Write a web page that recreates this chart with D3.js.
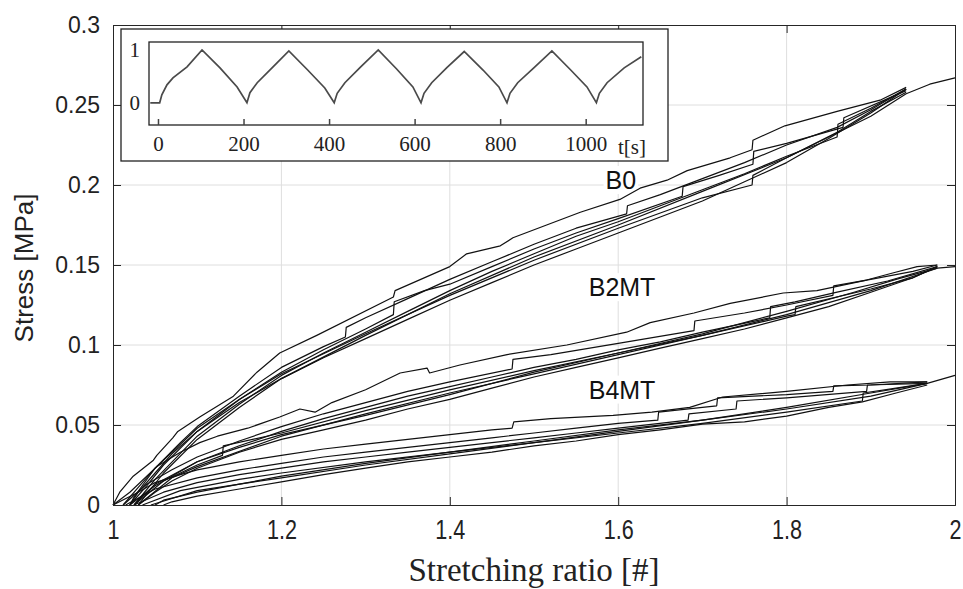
<html>
<head>
  <meta charset="utf-8">
  <title>Stress vs stretching ratio</title>
  <script src="https://cdn.jsdelivr.net/npm/d3@7"></script>
  <style>
    body { margin: 0; background: #fff; }
    svg text { font-family: "Liberation Sans", Arial, sans-serif; }
    .serif { font-family: "Liberation Serif", "Times New Roman", serif !important; }
  </style>
</head>
<body>
<div id="chart"></div>
<script>
// axis ticks
var xTicks = [1, 1.2, 1.4, 1.6, 1.8, 2];
var xTickLabels = ["1", "1.2", "1.4", "1.6", "1.8", "2"];
var yTicks = [0, 0.05, 0.1, 0.15, 0.2, 0.25, 0.3];
var yTickLabels = ["0", "0.05", "0.1", "0.15", "0.2", "0.25", "0.3"];

// B0 loops [stretch, stress]
var b0Load1 = [[1.000,0],[1.008,0.008],[1.024,0.018],[1.048,0.028],[1.052,0.031],[1.071,0.042],[1.077,0.046],[1.103,0.055],[1.143,0.068],[1.171,0.083],[1.198,0.095],[1.242,0.106],[1.333,0.130],[1.335,0.134],[1.400,0.149],[1.420,0.157],[1.460,0.162],[1.475,0.167],[1.515,0.175],[1.555,0.183],[1.602,0.191],[1.626,0.198],[1.658,0.203],[1.682,0.209],[1.733,0.217],[1.759,0.222],[1.760,0.228],[1.798,0.237],[1.860,0.246],[1.911,0.253],[1.942,0.261]];
var b0Load2 = [[1.012,0],[1.03,0.011],[1.05,0.023],[1.08,0.039],[1.1,0.049],[1.15,0.068],[1.2,0.086],[1.25,0.099],[1.276,0.105],[1.277,0.111],[1.3,0.117],[1.35,0.129],[1.4,0.141],[1.45,0.152],[1.5,0.163],[1.55,0.173],[1.61,0.182],[1.611,0.187],[1.65,0.194],[1.7,0.204],[1.75,0.214],[1.8,0.225],[1.86,0.236],[1.9,0.247],[1.942,0.26]];
var b0Load3 = [[1.02,0],[1.04,0.012],[1.06,0.025],[1.1,0.046],[1.15,0.066],[1.2,0.083],[1.25,0.097],[1.3,0.110],[1.333,0.119],[1.334,0.127],[1.37,0.134],[1.4,0.138],[1.45,0.149],[1.5,0.160],[1.55,0.170],[1.6,0.179],[1.676,0.193],[1.677,0.199],[1.72,0.206],[1.76,0.213],[1.761,0.221],[1.8,0.226],[1.867,0.236],[1.868,0.242],[1.942,0.259]];
var b0Load4 = [[1.025,0],[1.05,0.016],[1.1,0.043],[1.15,0.063],[1.2,0.081],[1.25,0.095],[1.3,0.108],[1.35,0.121],[1.4,0.134],[1.45,0.146],[1.5,0.157],[1.55,0.168],[1.6,0.177],[1.65,0.187],[1.7,0.197],[1.75,0.207],[1.8,0.218],[1.86,0.23],[1.861,0.238],[1.9,0.248],[1.942,0.26]];
var b0Unload1 = [[1.942,0.260],[1.9,0.245],[1.85,0.229],[1.8,0.214],[1.75,0.202],[1.7,0.190],[1.65,0.180],[1.6,0.170],[1.55,0.160],[1.5,0.150],[1.45,0.139],[1.4,0.128],[1.35,0.116],[1.3,0.104],[1.25,0.092],[1.2,0.079],[1.15,0.064],[1.1,0.046],[1.07,0.032],[1.05,0.020],[1.03,0.008],[1.02,0]];
var b0Unload2 = [[1.942,0.258],[1.9,0.246],[1.86,0.233],[1.8,0.217],[1.76,0.206],[1.759,0.2],[1.7,0.192],[1.6,0.173],[1.5,0.153],[1.4,0.131],[1.3,0.107],[1.2,0.082],[1.15,0.066],[1.1,0.048],[1.05,0.023],[1.025,0.005],[1.02,0]];
var b0Final = [[1.03,0],[1.06,0.02],[1.1,0.041],[1.15,0.061],[1.2,0.079],[1.3,0.106],[1.4,0.132],[1.5,0.155],[1.6,0.175],[1.7,0.196],[1.8,0.217],[1.9,0.243],[1.942,0.257],[1.97,0.263],[2.0,0.267]];

// B2MT loops
var b2Load1 = [[1.0,0],[1.02,0.008],[1.052,0.024],[1.08,0.033],[1.103,0.039],[1.124,0.043],[1.16,0.048],[1.198,0.055],[1.222,0.06],[1.24,0.058],[1.26,0.064],[1.3,0.072],[1.341,0.0825],[1.373,0.0856],[1.376,0.0825],[1.412,0.0875],[1.468,0.094],[1.539,0.100],[1.61,0.108],[1.638,0.114],[1.69,0.12],[1.733,0.126],[1.796,0.1325],[1.836,0.134],[1.895,0.1406],[1.926,0.145],[1.955,0.149],[1.979,0.150]];
var b2Load2 = [[1.012,0],[1.04,0.013],[1.07,0.022],[1.1,0.03],[1.15,0.04],[1.2,0.049],[1.25,0.057],[1.3,0.064],[1.35,0.071],[1.4,0.077],[1.474,0.085],[1.475,0.091],[1.52,0.094],[1.6,0.101],[1.69,0.109],[1.691,0.115],[1.75,0.12],[1.8,0.125],[1.855,0.131],[1.856,0.137],[1.9,0.141],[1.95,0.146],[1.979,0.15]];
var b2Load3 = [[1.02,0],[1.05,0.012],[1.1,0.027],[1.15,0.037],[1.2,0.046],[1.25,0.054],[1.3,0.061],[1.35,0.068],[1.4,0.074],[1.45,0.080],[1.5,0.086],[1.55,0.091],[1.6,0.097],[1.65,0.102],[1.7,0.108],[1.78,0.117],[1.781,0.124],[1.81,0.127],[1.86,0.133],[1.92,0.14],[1.979,0.149]];
var b2Load4 = [[1.025,0],[1.06,0.015],[1.1,0.025],[1.13,0.031],[1.131,0.037],[1.2,0.045],[1.3,0.059],[1.4,0.072],[1.5,0.084],[1.6,0.095],[1.7,0.106],[1.8,0.118],[1.81,0.119],[1.811,0.124],[1.9,0.135],[1.95,0.142],[1.979,0.149]];
var b2Unload1 = [[1.979,0.149],[1.95,0.142],[1.9,0.133],[1.85,0.124],[1.8,0.117],[1.75,0.110],[1.7,0.104],[1.65,0.098],[1.6,0.092],[1.55,0.086],[1.5,0.08],[1.45,0.073],[1.4,0.066],[1.35,0.06],[1.3,0.053],[1.25,0.047],[1.2,0.041],[1.15,0.033],[1.1,0.023],[1.07,0.015],[1.05,0.008],[1.03,0]];
var b2Unload2 = [[1.979,0.148],[1.93,0.141],[1.88,0.133],[1.8,0.121],[1.7,0.107],[1.6,0.095],[1.5,0.083],[1.4,0.069],[1.3,0.056],[1.2,0.044],[1.15,0.036],[1.1,0.027],[1.05,0.013],[1.025,0]];
var b2Final = [[1.03,0],[1.07,0.017],[1.1,0.024],[1.2,0.043],[1.3,0.057],[1.4,0.070],[1.5,0.082],[1.6,0.094],[1.7,0.106],[1.8,0.119],[1.9,0.134],[1.979,0.148],[2.0,0.149]];

// B4MT loops
var b4Load1 = [[1.0,0],[1.03,0.008],[1.05,0.014],[1.08,0.019],[1.1,0.022],[1.15,0.027],[1.2,0.031],[1.25,0.035],[1.3,0.038],[1.35,0.041],[1.4,0.044],[1.45,0.047],[1.474,0.048],[1.476,0.052],[1.52,0.054],[1.594,0.056],[1.64,0.058],[1.685,0.061],[1.724,0.0675],[1.8,0.071],[1.872,0.075],[1.923,0.077],[1.967,0.077]];
var b4Load2 = [[1.015,0],[1.05,0.01],[1.1,0.017],[1.15,0.022],[1.2,0.026],[1.25,0.030],[1.3,0.033],[1.35,0.036],[1.4,0.039],[1.45,0.042],[1.5,0.045],[1.55,0.048],[1.6,0.051],[1.647,0.053],[1.648,0.058],[1.7,0.061],[1.717,0.062],[1.718,0.067],[1.8,0.069],[1.855,0.071],[1.856,0.0745],[1.9,0.075],[1.967,0.077]];
var b4Load3 = [[1.025,0],[1.06,0.008],[1.1,0.014],[1.15,0.019],[1.2,0.023],[1.25,0.027],[1.3,0.030],[1.35,0.033],[1.4,0.036],[1.45,0.039],[1.5,0.042],[1.55,0.045],[1.6,0.048],[1.683,0.053],[1.684,0.057],[1.74,0.06],[1.741,0.065],[1.8,0.067],[1.895,0.071],[1.896,0.075],[1.967,0.076]];
var b4Load4 = [[1.035,0],[1.08,0.009],[1.15,0.016],[1.2,0.02],[1.3,0.027],[1.4,0.033],[1.5,0.039],[1.6,0.045],[1.7,0.051],[1.8,0.058],[1.89,0.065],[1.891,0.07],[1.93,0.073],[1.967,0.076]];
var b4Unload1 = [[1.967,0.075],[1.93,0.07],[1.89,0.0645],[1.85,0.061],[1.8,0.0555],[1.75,0.052],[1.7,0.0505],[1.65,0.047],[1.6,0.044],[1.55,0.040],[1.5,0.037],[1.45,0.033],[1.4,0.030],[1.35,0.027],[1.3,0.023],[1.25,0.019],[1.2,0.0145],[1.15,0.010],[1.1,0.0055],[1.07,0.002],[1.06,0]];
var b4Unload2 = [[1.967,0.076],[1.9,0.068],[1.8,0.06],[1.7,0.053],[1.6,0.047],[1.5,0.04],[1.4,0.033],[1.3,0.026],[1.2,0.018],[1.15,0.013],[1.1,0.008],[1.06,0.003],[1.05,0]];
var b4Final = [[1.045,0],[1.1,0.009],[1.2,0.017],[1.3,0.025],[1.4,0.032],[1.5,0.039],[1.6,0.046],[1.7,0.053],[1.8,0.061],[1.9,0.07],[1.967,0.076],[2.0,0.081]];

var seriesLabels = [
  {name: "B0", x: 1.585, y: 0.1975},
  {name: "B2MT", x: 1.565, y: 0.1305},
  {name: "B4MT", x: 1.565, y: 0.0665}
];

// inset: normalised stretch vs time
var insetT = [-18,4,9,21,35,68,103,145,185,208,215,232,269,306,350,390,412,419,437,474,515,558,596,615,622,640,676,716,760,797,816,823,841,880,921,965,1003,1025,1032,1050,1090,1130];
var insetV = [0,0,0.15,0.34,0.47,0.68,1.0,0.66,0.3,0,0.19,0.38,0.68,0.98,0.62,0.28,0,0.18,0.38,0.68,1.0,0.64,0.3,0,0.18,0.38,0.67,0.97,0.62,0.3,0,0.18,0.38,0.67,0.98,0.62,0.3,0,0.18,0.38,0.66,0.87];
var insetXTicks = [0, 200, 400, 600, 800, 1000];
var insetYTicks = [0, 1];

var allCurves = [b0Load1, b0Load2, b0Load3, b0Load4, b0Unload1, b0Unload2, b0Final,
                 b2Load1, b2Load2, b2Load3, b2Load4, b2Unload1, b2Unload2, b2Final,
                 b4Load1, b4Load2, b4Load3, b4Load4, b4Unload1, b4Unload2, b4Final];

var W = 963, H = 589;
var pl = 113, pr = 955, pt = 25, pb = 505;

var svg = d3.select("#chart").append("svg")
  .attr("width", W).attr("height", H);
svg.append("rect").attr("width", W).attr("height", H).attr("fill", "#fff");

var x = d3.scaleLinear().domain([1, 2]).range([pl, pr]);
var y = d3.scaleLinear().domain([0, 0.3]).range([pb, pt]);

// grid
var grid = svg.append("g").attr("stroke", "#dedede").attr("stroke-width", 1);
grid.selectAll("line.gx").data(xTicks.slice(1, -1)).enter().append("line")
  .attr("x1", d => x(d)).attr("x2", d => x(d)).attr("y1", pt).attr("y2", pb);
grid.selectAll("line.gy").data(yTicks.slice(1, -1)).enter().append("line")
  .attr("y1", d => y(d)).attr("y2", d => y(d)).attr("x1", pl).attr("x2", pr);

// label backgrounds hide the grid
var labG = svg.append("g");
seriesLabels.forEach(function(s) {
  var t = labG.append("text").text(s.name)
    .attr("x", x(s.x)).attr("y", y(s.y))
    .attr("font-size", 25).attr("fill", "#111");
  var bb = t.node().getBBox();
  labG.insert("rect", "text").attr("x", bb.x - 2).attr("y", bb.y)
    .attr("width", bb.width + 4).attr("height", bb.height).attr("fill", "#fff");
});

// curves
var line = d3.line().x(d => x(d[0])).y(d => y(d[1]));
svg.append("g").selectAll("path").data(allCurves).enter().append("path")
  .attr("d", line).attr("fill", "none").attr("stroke", "#111")
  .attr("stroke-width", 1.2).attr("stroke-linejoin", "round");

// axes with inward ticks, box on
var tk = 8;
var axL = svg.append("g").attr("transform", "translate(" + pl + ",0)")
  .call(d3.axisLeft(y).tickValues(yTicks).tickSize(-tk).tickPadding(13)
    .tickFormat((d, i) => yTickLabels[i]));
var axR = svg.append("g").attr("transform", "translate(" + pr + ",0)")
  .call(d3.axisRight(y).tickValues(yTicks).tickSize(-tk).tickFormat(""));
var axB = svg.append("g").attr("transform", "translate(0," + pb + ")")
  .call(d3.axisBottom(x).tickValues(xTicks).tickSize(-tk).tickPadding(15)
    .tickFormat((d, i) => xTickLabels[i]));
var axT = svg.append("g").attr("transform", "translate(0," + pt + ")")
  .call(d3.axisTop(x).tickValues(xTicks).tickSize(-tk).tickFormat(""));
[axL, axR, axB, axT].forEach(function(a) {
  a.select(".domain").attr("stroke", "#262626");
  a.selectAll(".tick line").attr("stroke", "#262626");
});
axL.selectAll("text").attr("font-size", 23).attr("fill", "#222");
// condensed look for the x tick labels
axB.selectAll("text").attr("font-size", 27).attr("fill", "#222")
  .each(function() {
    var w = this.getComputedTextLength();
    d3.select(this).attr("textLength", w * 0.8).attr("lengthAdjust", "spacingAndGlyphs");
  });

svg.append("text").attr("class", "serif")
  .attr("x", (pl + pr) / 2).attr("y", 581)
  .attr("text-anchor", "middle").attr("font-size", 33).attr("fill", "#222")
  .text("Stretching ratio [#]");
svg.append("text")
  .attr("transform", "translate(33,268) rotate(-90)")
  .attr("text-anchor", "middle").attr("font-size", 26).attr("fill", "#222")
  .text("Stress [MPa]");

// inset
var ins = svg.append("g");
ins.append("rect").attr("x", 121).attr("y", 29).attr("width", 547).attr("height", 132)
  .attr("fill", "#fff").attr("stroke", "#222").attr("stroke-width", 1.3);
var tx = d3.scaleLinear().domain([-21, 1134]).range([149, 643]);
var ty = d3.scaleLinear().domain([-0.42, 1.15]).range([125, 42]);
ins.append("rect").attr("x", 149).attr("y", 42).attr("width", 494).attr("height", 83)
  .attr("fill", "none").attr("stroke", "#222").attr("stroke-width", 1.3);
var insetLine = d3.line().x(d => tx(d[0])).y(d => ty(d[1]));
ins.append("path").datum(insetT.map((t, i) => [t, insetV[i]]))
  .attr("d", insetLine).attr("fill", "none").attr("stroke", "#4a4a4a").attr("stroke-width", 1.7);
var iax = ins.append("g").attr("transform", "translate(0,125)")
  .call(d3.axisBottom(tx).tickValues(insetXTicks).tickSize(-6).tickPadding(11).tickFormat(d3.format("d")));
iax.select(".domain").remove();
iax.selectAll(".tick line").attr("stroke", "#444").attr("stroke-width", 1.5);
iax.selectAll("text").attr("class", "serif").attr("font-size", 21).attr("fill", "#222");
var iay = ins.append("g").attr("transform", "translate(149,0)")
  .call(d3.axisLeft(ty).tickValues(insetYTicks).tickSize(0).tickPadding(9).tickFormat(d3.format("d")));
iay.select(".domain").remove();
iay.selectAll("text").attr("class", "serif").attr("font-size", 21).attr("fill", "#222");
ins.append("text").attr("class", "serif").attr("x", 618).attr("y", 154)
  .attr("font-size", 21).attr("fill", "#222").text("t[s]");
</script>
</body>
</html>
